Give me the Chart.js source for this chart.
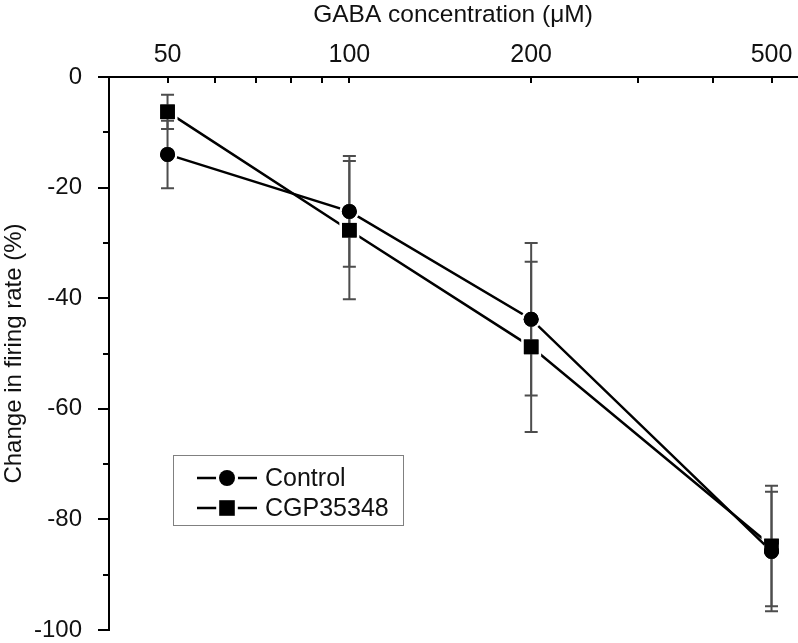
<!DOCTYPE html>
<html><head><meta charset="utf-8">
<script src="https://cdn.jsdelivr.net/npm/chart.js@4/dist/chart.umd.min.js"></script>
<style>html,body{margin:0;padding:0;background:#fff}canvas{display:block}</style>
</head><body>
<canvas id="c" width="798" height="643"></canvas>
<script>
const concentrations = [50, 100, 200, 500];
const seriesNames = ['Control', 'CGP35348'];
const controlValues = [-14, -24.3, -43.8, -85.8];
const controlErrors = [6.1, 10, 13.8, 10.8];
const cgpValues = [-6.3, -27.7, -48.8, -84.8];
const cgpErrors = [3.1, 12.5, 15.4, 10.9];
const xMajorTicks = [50, 100, 200, 500];
const xMinorTicks = [60, 70, 80, 90, 300, 400];
const yMajorTicks = [0, -20, -40, -60, -80, -100];
const yMinorTicks = [-10, -30, -50, -70, -90];
const xTitle = 'GABA concentration (μM)';
const yTitle = 'Change in firing rate (%)';

const FONT = "'Liberation Sans', Arial, Helvetica, sans-serif";
Chart.defaults.font.family = FONT;
Chart.defaults.color = '#111';

const errorSets = [controlErrors, cgpErrors];
const markerStyles = [
  {style: 'circle', size: 7.5},
  {style: 'rect', size: 7.3}
];

function drawMarker(ctx, style, size, x, y, halo) {
  ctx.save();
  if (halo) {
    ctx.fillStyle = '#fff';
    ctx.beginPath();
    if (style === 'circle') ctx.arc(x, y, size + halo, 0, Math.PI * 2);
    else ctx.rect(x - size - halo, y - size - halo, 2 * (size + halo), 2 * (size + halo));
    ctx.fill();
  }
  ctx.fillStyle = '#000';
  ctx.beginPath();
  if (style === 'circle') ctx.arc(x, y, size, 0, Math.PI * 2);
  else ctx.rect(x - size, y - size, 2 * size, 2 * size);
  ctx.fill();
  ctx.restore();
}

const errorBarPlugin = {
  id: 'errorBars',
  afterDatasetsDraw(chart) {
    const ctx = chart.ctx;
    const ys = chart.scales.y;
    ctx.save();
    ctx.strokeStyle = '#4d4d4d';
    ctx.lineWidth = 2;
    chart.data.datasets.forEach((ds, di) => {
      const meta = chart.getDatasetMeta(di);
      meta.data.forEach((pt, i) => {
        const v = ds.data[i].y;
        const e = errorSets[di][i];
        const yTop = ys.getPixelForValue(v + e);
        const yBot = ys.getPixelForValue(v - e);
        const x = pt.x;
        ctx.beginPath();
        ctx.moveTo(x, yTop); ctx.lineTo(x, yBot);
        ctx.moveTo(x - 6.5, yTop); ctx.lineTo(x + 6.5, yTop);
        ctx.moveTo(x - 6.5, yBot); ctx.lineTo(x + 6.5, yBot);
        ctx.stroke();
      });
    });
    ctx.restore();
    for (let di = chart.data.datasets.length - 1; di >= 0; di--) {
      const meta = chart.getDatasetMeta(di);
      meta.data.forEach(pt => drawMarker(ctx, markerStyles[di].style, markerStyles[di].size, pt.x, pt.y, 0));
    }
  }
};

const tickPlugin = {
  id: 'tickMarks',
  afterDraw(chart) {
    const ctx = chart.ctx;
    const xs = chart.scales.x, ys = chart.scales.y;
    const top = chart.chartArea.top, left = chart.chartArea.left;
    ctx.save();
    ctx.strokeStyle = '#000';
    ctx.lineWidth = 2;
    ctx.beginPath();
    xMajorTicks.concat(xMinorTicks).forEach(v => {
      const x = Math.round(xs.getPixelForValue(v));
      ctx.moveTo(x, top); ctx.lineTo(x, top + 6);
    });
    yMajorTicks.forEach(v => {
      const y = Math.round(ys.getPixelForValue(v));
      ctx.moveTo(left, y); ctx.lineTo(left - 11, y);
    });
    yMinorTicks.forEach(v => {
      const y = Math.round(ys.getPixelForValue(v));
      ctx.moveTo(left, y); ctx.lineTo(left - 6, y);
    });
    ctx.stroke();
    ctx.restore();
  }
};

const legendPlugin = {
  id: 'boxLegend',
  afterDraw(chart) {
    const ctx = chart.ctx;
    const bx = 173, by = 455, bw = 230, bh = 70;
    ctx.save();
    ctx.fillStyle = '#fff';
    ctx.fillRect(bx, by, bw, bh);
    ctx.strokeStyle = '#808080';
    ctx.lineWidth = 1;
    ctx.strokeRect(bx + 0.5, by + 0.5, bw, bh);
    const rows = [478, 508];
    chart.data.datasets.forEach((ds, di) => {
      const y = rows[di];
      ctx.strokeStyle = '#000';
      ctx.lineWidth = 2.5;
      ctx.beginPath();
      ctx.moveTo(197, y); ctx.lineTo(257, y);
      ctx.stroke();
      drawMarker(ctx, markerStyles[di].style, markerStyles[di].size + 0.5, 227, y, 3);
      ctx.fillStyle = '#111';
      ctx.font = '25px ' + FONT;
      ctx.textAlign = 'left';
      ctx.textBaseline = 'middle';
      ctx.fillText(ds.label, 265, y + 1);
    });
    ctx.restore();
  }
};

const mk = (vals) => concentrations.map((x, i) => ({x: x, y: vals[i]}));
const zeroPad = (scale) => { scale.paddingLeft = 0; scale.paddingRight = 0; scale.paddingTop = 0; scale.paddingBottom = 0; };

new Chart(document.getElementById('c'), {
  type: 'line',
  data: {
    datasets: [
      {
        label: seriesNames[0], data: mk(controlValues),
        borderColor: '#000', borderWidth: 2.5, tension: 0,
        pointStyle: 'circle', pointRadius: 8.75, pointBorderWidth: 2.5,
        pointBackgroundColor: '#000', pointBorderColor: '#fff'
      },
      {
        label: seriesNames[1], data: mk(cgpValues),
        borderColor: '#000', borderWidth: 2.5, tension: 0,
        pointStyle: 'rect', pointRadius: 12.2, pointBorderWidth: 2.7,
        pointBackgroundColor: '#000', pointBorderColor: '#fff'
      }
    ]
  },
  options: {
    responsive: false,
    animation: false,
    events: [],
    layout: {autoPadding: false, padding: {left: 0, top: 0, right: 1, bottom: 13}},
    plugins: {legend: {display: false}, tooltip: {enabled: false}},
    scales: {
      x: {
        type: 'logarithmic', position: 'top', min: 40, max: 551,
        afterBuildTicks(scale) { scale.ticks = xMajorTicks.map(v => ({value: v})); },
        afterFit(scale) { scale.height = 77; zeroPad(scale); },
        ticks: {
          autoSkip: false, maxRotation: 0, padding: 9,
          font: {size: 25, lineHeight: 1}, color: '#111',
          callback: (v) => String(v)
        },
        grid: {display: true, drawOnChartArea: false, drawTicks: false},
        border: {display: true, color: '#000', width: 2},
        title: {display: true, text: xTitle, font: {size: 24.5}, color: '#111', padding: {top: 1, bottom: 0}}
      },
      y: {
        type: 'linear', position: 'left', min: -100, max: 0,
        afterBuildTicks(scale) { scale.ticks = yMajorTicks.map(v => ({value: v})); },
        afterFit(scale) { scale.width = 109; zeroPad(scale); },
        ticks: {
          autoSkip: false, padding: 27,
          font: {size: 24, lineHeight: 1}, color: '#111',
          callback: (v) => String(v)
        },
        grid: {display: true, drawOnChartArea: false, drawTicks: false},
        border: {display: true, color: '#000', width: 2},
        title: {display: true, text: yTitle, font: {size: 24}, color: '#111', padding: {top: 0, bottom: 0}}
      }
    }
  },
  plugins: [errorBarPlugin, tickPlugin, legendPlugin]
});
</script>
</body></html>
